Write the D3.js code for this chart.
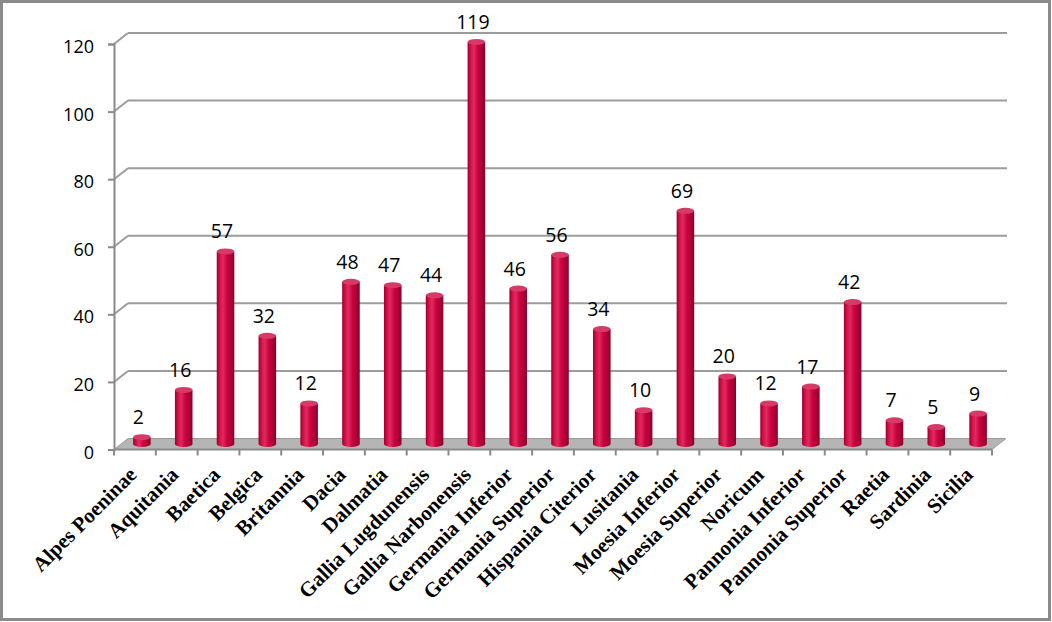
<!DOCTYPE html>
<html lang="en">
  <head>
    <meta charset="UTF-8" />
    <title>Provinces – 3D column chart</title>
    <script src="https://d3js.org/d3.v7.min.js"></script>
    <style>
      body {
        margin: 0;
        background: #fff;
      }
      svg {
        display: block;
      }
      .val {
        font-family: 'Open Sans', sans-serif;
        font-size: 19.5px;
        fill: #000;
      }
      .ytick {
        font-family: 'Open Sans', sans-serif;
        font-size: 18px;
        fill: #000;
      }
      .xlab {
        font-family: 'Liberation Serif', 'Times New Roman', serif;
        font-weight: bold;
        font-size: 21px;
        fill: #000;
      }
    </style>
  </head>
  <body>
    <svg width="1052" height="622"></svg>

    <script>
      const provinces = [
        'Alpes Poeninae', 'Aquitania', 'Baetica', 'Belgica', 'Britannia',
        'Dacia', 'Dalmatia', 'Gallia Lugdunensis', 'Gallia Narbonensis',
        'Germania Inferior', 'Germania Superior', 'Hispania Citerior',
        'Lusitania', 'Moesia Inferior', 'Moesia Superior', 'Noricum',
        'Pannonia Inferior', 'Pannonia Superior', 'Raetia', 'Sardinia', 'Sicilia',
      ];
      const counts = [2, 16, 57, 32, 12, 48, 47, 44, 119, 46, 56, 34, 10, 69, 20, 12, 17, 42, 7, 5, 9];
      const yTicks = [0, 20, 40, 60, 80, 100, 120];

      const svg = d3.select('svg');
      const defs = svg.append('defs');

      // depth of the fake 3D box
      const dx = 14, dy = -11;

      const x = d3.scaleBand().domain(provinces).range([114, 992]).padding(0);
      const y = d3.scaleLinear().domain([0, 120]).range([449.5, 44]);

      // outer frame
      svg.append('rect')
        .attr('x', 1.5).attr('y', 1.5)
        .attr('width', 1048).attr('height', 618)
        .attr('fill', 'none').attr('stroke', '#8a8a8a').attr('stroke-width', 3);

      // gridlines on back wall + side wall diagonals
      const grid = svg.append('g');
      grid.selectAll('line.back')
        .data(yTicks.filter((t) => t > 0))
        .join('line')
        .attr('class', 'back')
        .attr('x1', 114 + dx).attr('x2', 1007)
        .attr('y1', (d) => y(d) + dy).attr('y2', (d) => y(d) + dy)
        .attr('stroke', '#9c9c9c').attr('stroke-width', 2);
      grid.selectAll('line.side')
        .data(yTicks.filter((t) => t > 0))
        .join('line')
        .attr('class', 'side')
        .attr('x1', 114).attr('x2', 114 + dx)
        .attr('y1', (d) => y(d)).attr('y2', (d) => y(d) + dy)
        .attr('stroke', '#9c9c9c').attr('stroke-width', 2);

      // floor
      const [fx0, fx1] = x.range();
      const fy = y(0);
      svg.append('path')
        .attr('d', `M${fx0},${fy} L${fx0 + dx},${fy + dy} L${fx1 + dx},${fy + dy} L${fx1},${fy} Z`)
        .attr('fill', '#b5b5b5').attr('stroke', '#9a9a9a').attr('stroke-width', 1);

      // y axis (front)
      const yAxis = svg.append('g')
        .attr('transform', 'translate(114,0)')
        .call(d3.axisLeft(y).tickValues(yTicks).tickSize(6).tickFormat(''));
      yAxis.select('.domain').attr('stroke', '#8a8a8a').attr('stroke-width', 2);
      yAxis.selectAll('.tick line').attr('stroke', '#8a8a8a').attr('stroke-width', 2);

      svg.selectAll('text.ytick')
        .data(yTicks)
        .join('text')
        .attr('class', 'ytick')
        .attr('x', 94)
        .attr('y', (d) => y(d) + 9)
        .attr('text-anchor', 'end')
        .text((d) => d);

      // x axis front edge and ticks between categories
      svg.append('line')
        .attr('x1', fx0).attr('x2', fx1).attr('y1', fy).attr('y2', fy)
        .attr('stroke', '#8a8a8a').attr('stroke-width', 2);
      const bounds = provinces.map((p) => x(p)).concat([fx1]);
      svg.selectAll('line.xtick')
        .data(bounds)
        .join('line')
        .attr('class', 'xtick')
        .attr('x1', (d) => d).attr('x2', (d) => d)
        .attr('y1', fy).attr('y2', fy + 6)
        .attr('stroke', '#8a8a8a').attr('stroke-width', 2);

      // cylinder gradients
      const bodyGrad = defs.append('linearGradient').attr('id', 'body')
        .attr('x1', '0%').attr('x2', '100%').attr('y1', '0%').attr('y2', '0%');
      [
        [0, '#9a002b'], [0.2, '#d9144f'], [0.35, '#e02a5e'],
        [0.6, '#c9003e'], [0.85, '#a80033'], [1, '#85002a'],
      ].forEach(([o, c]) => bodyGrad.append('stop').attr('offset', o).attr('stop-color', c));

      const bw = x.bandwidth() * 0.42;
      const rx = bw / 2, ry = 3;

      const bars = svg.append('g')
        .selectAll('g')
        .data(provinces.map((p, i) => ({ name: p, value: counts[i] })))
        .join('g');

      bars.append('path')
        .attr('d', (d) => {
          const cx = x(d.name) + x.bandwidth() / 2 + dx / 2;
          const top = y(d.value) + dy / 2;
          const bot = y(0) + dy / 2;
          return `M${cx - rx},${top} L${cx - rx},${bot} A${rx},${ry} 0 0 0 ${cx + rx},${bot} L${cx + rx},${top} Z`;
        })
        .attr('fill', 'url(#body)');

      bars.append('ellipse')
        .attr('cx', (d) => x(d.name) + x.bandwidth() / 2 + dx / 2)
        .attr('cy', (d) => y(d.value) + dy / 2)
        .attr('rx', rx).attr('ry', ry)
        .attr('fill', '#d63a66');

      // value labels
      bars.append('text')
        .attr('class', 'val')
        .attr('x', (d) => x(d.name) + x.bandwidth() / 2 + 3.5)
        .attr('y', (d) => y(d.value) + dy / 2 - 13)
        .attr('text-anchor', 'middle')
        .text((d) => d.value);

      // rotated category labels
      svg.selectAll('text.xlab')
        .data(provinces)
        .join('text')
        .attr('class', 'xlab')
        .attr('text-anchor', 'end')
        .attr('transform', (d) => `translate(${x(d) + x.bandwidth() / 2 + 3},${476}) rotate(-45)`)
        .text((d) => d);
    </script>
  </body>
</html>
